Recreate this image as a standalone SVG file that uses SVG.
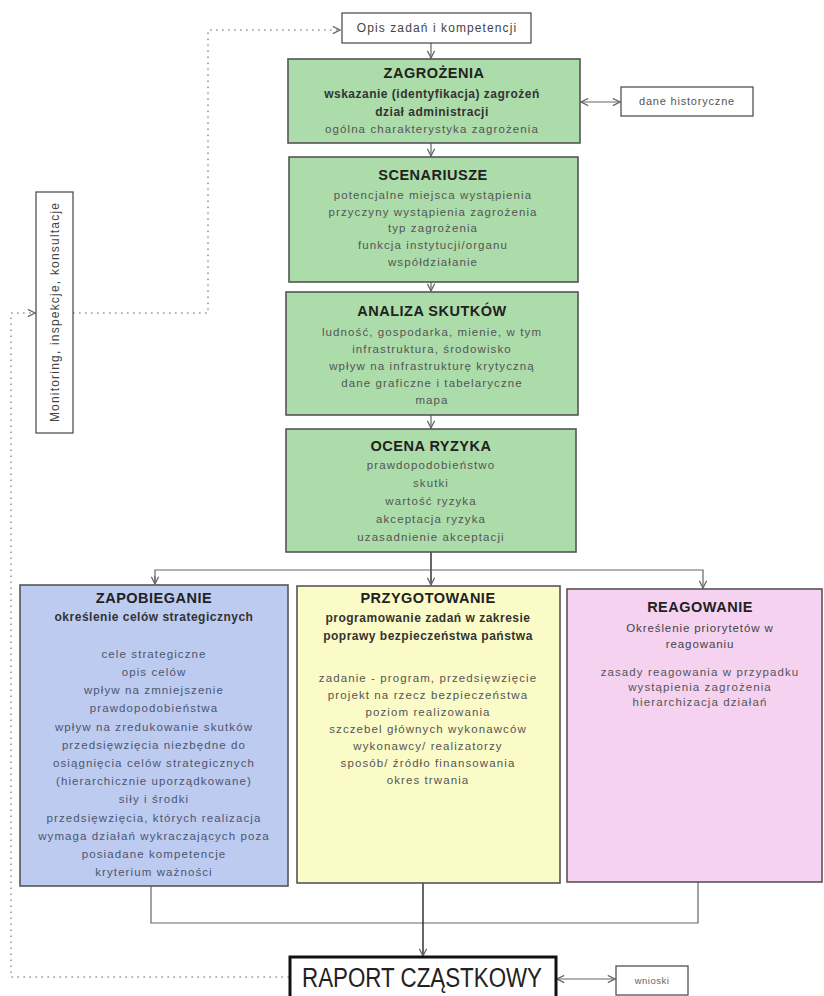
<svg xmlns="http://www.w3.org/2000/svg" width="824" height="996" viewBox="0 0 824 996">
<defs>
<style>
text{font-family:"Liberation Sans",Arial,sans-serif;text-anchor:middle;}
.t{font-size:14.5px;font-weight:bold;fill:#222;letter-spacing:0.5px;}
.sb{font-size:12px;font-weight:bold;fill:#333;letter-spacing:0.5px;}
.b{font-size:11.5px;fill:#555;letter-spacing:1.1px;}
.bb{font-size:11.5px;fill:#4c5670;letter-spacing:1.1px;}
.g{fill:#acdcaa;stroke:#555;stroke-width:1.6;}
.bl{fill:#bccbef;stroke:#555;stroke-width:1.6;}
.ye{fill:#fbfbc8;stroke:#555;stroke-width:1.6;}
.pk{fill:#f4d2f0;stroke:#555;stroke-width:1.6;}
.w{fill:#fff;stroke:#444;stroke-width:1.2;}
.ln{fill:none;stroke:#666;stroke-width:1.2;}
.dk{fill:none;stroke:#333;stroke-width:1.5;}
.dot{fill:none;stroke:#999;stroke-width:1.6;stroke-dasharray:1.6 4.4;}
</style>
<marker id="arr" viewBox="0 0 10 10" refX="9" refY="5" markerWidth="9" markerHeight="9" markerUnits="userSpaceOnUse" orient="auto-start-reverse">
<path d="M1,1 L9,5 L1,9" fill="none" stroke="#666" stroke-width="1.4"/>
</marker>
</defs>
<rect width="824" height="996" fill="#fff"/>

<g id="connectors">
<path class="dot" d="M73,313 H208 V30 H340" marker-end="url(#arr)"/>
<path class="dot" d="M289,977 H11 V313 H35" marker-end="url(#arr)"/>
<path class="ln" d="M431,43 V58" marker-end="url(#arr)"/>
<path class="ln" d="M431,143 V156" marker-end="url(#arr)"/>
<path class="ln" d="M431,282 V291" marker-end="url(#arr)"/>
<path class="ln" d="M431,415 V428" marker-end="url(#arr)"/>
<path class="ln" d="M581,102 H620" marker-start="url(#arr)" marker-end="url(#arr)"/>
<path class="dk" d="M431,552 V585" marker-end="url(#arr)"/>
<path class="ln" d="M155,584 V570 H703 V588" marker-end="url(#arr)"/>
<path class="ln" d="M155,576 V584" marker-end="url(#arr)"/>
<path class="ln" d="M151,886 V923 H698 V882"/>
<path class="dk" d="M423,883 V956" marker-end="url(#arr)"/>
<path class="ln" d="M557,979 H615" marker-start="url(#arr)" marker-end="url(#arr)"/>
</g>

<g id="opis">
<rect class="w" x="342" y="13" width="189" height="30"/>
<text x="437" y="32" style="font-size:12px;fill:#444;letter-spacing:1.1px">Opis zadań i kompetencji</text>
</g>

<g id="zagrozenia">
<rect class="g" x="288" y="59" width="292" height="84"/>
<text class="t" x="434" y="78">ZAGROŻENIA</text>
<text class="sb" x="432" y="98">wskazanie (identyfikacja) zagrożeń</text>
<text class="sb" x="432" y="116">dział administracji</text>
<text class="b" x="432" y="133">ogólna charakterystyka zagrożenia</text>
</g>

<g id="dane">
<rect class="w" x="621" y="87" width="132" height="29"/>
<text x="687" y="105" style="font-size:11px;fill:#555;letter-spacing:0.8px">dane historyczne</text>
</g>

<g id="scenariusze">
<rect class="g" x="289" y="157" width="289" height="125"/>
<text class="t" x="433" y="180">SCENARIUSZE</text>
<text class="b" x="433" y="199">potencjalne miejsca wystąpienia</text>
<text class="b" x="433" y="216">przyczyny wystąpienia zagrożenia</text>
<text class="b" x="433" y="232">typ zagrożenia</text>
<text class="b" x="433" y="249">funkcja instytucji/organu</text>
<text class="b" x="433" y="266">współdziałanie</text>
</g>

<g id="analiza">
<rect class="g" x="286" y="292" width="292" height="123"/>
<text class="t" x="432" y="316">ANALIZA SKUTKÓW</text>
<text class="b" x="432" y="336">ludność, gospodarka, mienie, w tym</text>
<text class="b" x="432" y="353">infrastruktura, środowisko</text>
<text class="b" x="432" y="370">wpływ na infrastrukturę krytyczną</text>
<text class="b" x="432" y="387">dane graficzne i tabelaryczne</text>
<text class="b" x="432" y="404">mapa</text>
</g>

<g id="ocena">
<rect class="g" x="286" y="429" width="290" height="123"/>
<text class="t" x="431" y="451">OCENA RYZYKA</text>
<text class="b" x="431" y="469">prawdopodobieństwo</text>
<text class="b" x="431" y="487">skutki</text>
<text class="b" x="431" y="505">wartość ryzyka</text>
<text class="b" x="431" y="523">akceptacja ryzyka</text>
<text class="b" x="431" y="541">uzasadnienie akceptacji</text>
</g>

<g id="monitoring">
<rect class="w" x="36" y="192" width="37" height="241"/>
<text x="0" y="0" transform="translate(59,312) rotate(-90)" style="font-size:12px;fill:#444;letter-spacing:1.2px">Monitoring, inspekcje, konsultacje</text>
</g>

<g id="zapobieganie">
<rect class="bl" x="20" y="585" width="268" height="301"/>
<text class="t" x="154" y="603">ZAPOBIEGANIE</text>
<text class="sb" x="154" y="621">określenie celów strategicznych</text>
<text class="bb" x="154" y="658">cele strategiczne</text>
<text class="bb" x="154" y="676">opis celów</text>
<text class="bb" x="154" y="694">wpływ na zmniejszenie</text>
<text class="bb" x="154" y="712">prawdopodobieństwa</text>
<text class="bb" x="154" y="731">wpływ na zredukowanie skutków</text>
<text class="bb" x="154" y="749">przedsięwzięcia niezbędne do</text>
<text class="bb" x="154" y="767">osiągnięcia celów strategicznych</text>
<text class="bb" x="154" y="785">(hierarchicznie uporządkowane)</text>
<text class="bb" x="154" y="803">siły i środki</text>
<text class="bb" x="154" y="822">przedsięwzięcia, których realizacja</text>
<text class="bb" x="154" y="840">wymaga działań wykraczających poza</text>
<text class="bb" x="154" y="858">posiadane kompetencje</text>
<text class="bb" x="154" y="876">kryterium ważności</text>
</g>

<g id="przygotowanie">
<rect class="ye" x="297" y="586" width="263" height="297"/>
<text class="t" x="428" y="603">PRZYGOTOWANIE</text>
<text class="sb" x="428" y="622">programowanie zadań w zakresie</text>
<text class="sb" x="428" y="640">poprawy bezpieczeństwa państwa</text>
<text class="b" x="428" y="682">zadanie - program, przedsięwzięcie</text>
<text class="b" x="428" y="699">projekt na rzecz bezpieczeństwa</text>
<text class="b" x="428" y="716">poziom realizowania</text>
<text class="b" x="428" y="733">szczebel głównych wykonawców</text>
<text class="b" x="428" y="750">wykonawcy/ realizatorzy</text>
<text class="b" x="428" y="767">sposób/ źródło finansowania</text>
<text class="b" x="428" y="784">okres trwania</text>
</g>

<g id="reagowanie">
<rect class="pk" x="567" y="589" width="255" height="293"/>
<text class="t" x="700" y="612">REAGOWANIE</text>
<text x="700" y="632" style="font-size:11.5px;fill:#444;letter-spacing:0.9px">Określenie priorytetów w</text>
<text x="700" y="648" style="font-size:11.5px;fill:#444;letter-spacing:0.9px">reagowaniu</text>
<text class="b" x="700" y="676">zasady reagowania w przypadku</text>
<text class="b" x="700" y="691">wystąpienia zagrożenia</text>
<text class="b" x="700" y="706">hierarchizacja działań</text>
</g>

<g id="raport">
<rect x="290" y="957" width="266" height="50" fill="#fff" stroke="#111" stroke-width="3"/>
<text x="422" y="987" textLength="240" lengthAdjust="spacingAndGlyphs" style="font-size:27px;fill:#222">RAPORT CZĄSTKOWY</text>
</g>

<g id="wnioski">
<rect class="w" x="616" y="966" width="72" height="29"/>
<text x="652" y="984" style="font-size:9.5px;fill:#666;letter-spacing:0.5px">wnioski</text>
</g>
</svg>
